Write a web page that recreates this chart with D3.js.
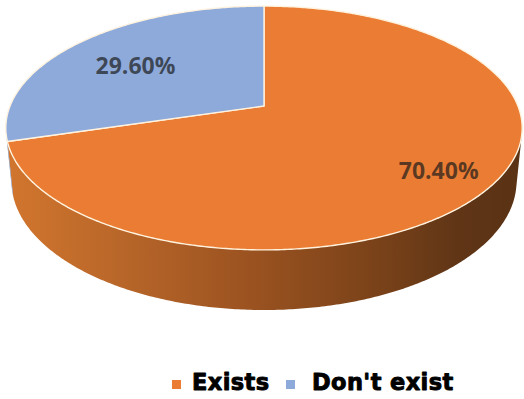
<!DOCTYPE html>
<html>
<head>
<meta charset="utf-8">
<script src="https://cdn.jsdelivr.net/npm/d3@7"></script>
<style>
  html, body { margin: 0; padding: 0; background: #ffffff; }
  svg { display: block; }
</style>
</head>
<body>
<svg id="chart" width="524" height="399"></svg>
<script>
// Share of cases where the item exists vs. does not
const categories = ["Exists", "Don't exist"];
const values = [70.4, 29.6];
const valueLabels = ["70.40%", "29.60%"];
const colors = ["#ea7d33", "#8eaadb"];
const sideColors = ["#b8652a", "#6d86b3"];

const svg = d3.select("#chart");

// Perspective view of a tilted disc (radius 1, thickness H)
const view = { cx: 264, cy: 106, fx: 1252, fy: 1272, dist: 4.93, tilt: 27.2 * Math.PI / 180, H: 0.234 };
const sinT = Math.sin(view.tilt), cosT = Math.cos(view.tilt);

function project(r, a, y) {
  const X = r * Math.sin(a);
  const Z = -r * Math.cos(a);
  const d = view.dist - (Z * cosT + y * sinT);
  return [view.cx + view.fx * X / d, view.cy + view.fy * (Z * sinT - y * cosT) / d];
}

const pie = d3.pie().sort(null).startAngle(0).endAngle(2 * Math.PI);
const arcs = pie(values);

const line = d3.line();

function arcPoints(a0, a1, r, y) {
  const n = Math.max(2, Math.ceil(Math.abs(a1 - a0) / 0.01));
  return d3.range(n + 1).map(i => project(r, a0 + (a1 - a0) * i / n, y));
}

// Range of angles whose outer wall faces the viewer
const edge = Math.acos(-1 / (view.dist * cosT));
const visA0 = edge, visA1 = 2 * Math.PI - edge;

// Side wall gradient (light on the left, dark on the right)
const defs = svg.append("defs");
const grad = defs.append("linearGradient")
  .attr("id", "wallGrad")
  .attr("gradientUnits", "userSpaceOnUse")
  .attr("x1", 5).attr("y1", 0).attr("x2", 522).attr("y2", 0);
[[0, "#d2762e"], [0.2, "#bb682a"], [0.48, "#9a5220"], [0.72, "#7a4219"], [0.88, "#5f3516"], [1, "#5a3214"]]
  .forEach(([o, c]) => grad.append("stop").attr("offset", o).attr("stop-color", c));

const walls = svg.append("g");
arcs.forEach((d, i) => {
  const a0 = Math.max(d.startAngle, visA0);
  const a1 = Math.min(d.endAngle, visA1);
  if (a1 <= a0) return;
  const top = arcPoints(a0, a1, 1, 0);
  const bottom = arcPoints(a1, a0, 1, -view.H);
  walls.append("path")
    .attr("d", line(top.concat(bottom)) + "Z")
    .attr("fill", i === 0 ? "url(#wallGrad)" : sideColors[i]);
});

// Top faces
const tops = svg.append("g");
arcs.forEach((d, i) => {
  const pts = [project(0, 0, 0)].concat(arcPoints(d.startAngle, d.endAngle, 1, 0));
  tops.append("path")
    .attr("d", line(pts) + "Z")
    .attr("fill", colors[i])
    .attr("stroke", "#fff3df")
    .attr("stroke-width", 1.4)
    .attr("stroke-linejoin", "round");
});

// Value labels, placed at the middle angle of each slice
arcs.forEach((d, i) => {
  const mid = (d.startAngle + d.endAngle) / 2;
  const p = project(0.74, mid, 0);
  svg.append("text")
    .attr("x", p[0] + 11)
    .attr("y", p[1] + 16)
    .attr("text-anchor", "middle")
    .attr("font-family", "'Open Sans', 'Noto Sans', sans-serif")
    .attr("font-weight", 700)
    .attr("font-size", 23)
    .attr("fill", "#1a1a1a")
    .attr("fill-opacity", 0.7)
    .text(valueLabels[i]);
});

// Legend
const legendSwatchX = d3.scaleOrdinal().domain(categories).range([172, 286]);
const legendTextX = d3.scaleOrdinal().domain(categories).range([192, 312]);
const legend = svg.append("g");
categories.forEach((c, i) => {
  legend.append("rect")
    .attr("x", legendSwatchX(c)).attr("y", 380)
    .attr("width", 9).attr("height", 9)
    .attr("fill", colors[i]);
  legend.append("text")
    .attr("x", legendTextX(c))
    .attr("y", 390)
    .attr("font-family", "'DejaVu Sans', sans-serif")
    .attr("font-weight", "bold")
    .attr("font-size", 22.5)
    .attr("letter-spacing", 0.4)
    .attr("fill", "#000")
    .attr("stroke", "#000")
    .attr("stroke-width", 0.9)
    .attr("stroke-linejoin", "round")
    .text(c);
});
</script>
</body>
</html>
